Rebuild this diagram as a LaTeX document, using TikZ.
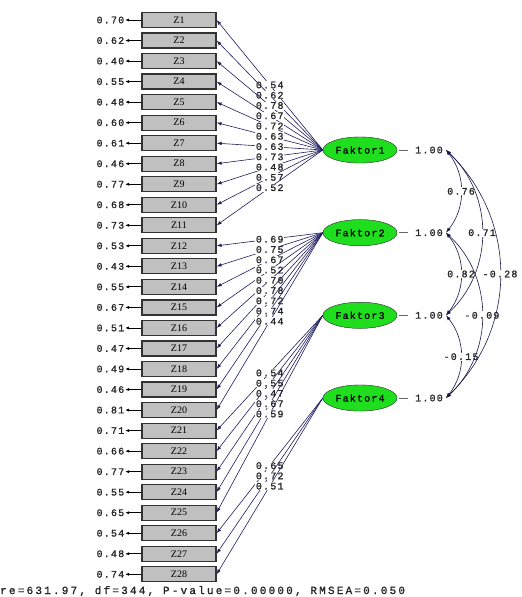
\documentclass[tikz,border=0pt]{standalone}
\usepackage{fontspec}
\setmainfont{Liberation Serif}
\newfontfamily\lmono[LetterSpace=12,FakeBold=1.2]{Liberation Mono}
\newfontfamily\bmono[LetterSpace=20,FakeBold=1.2]{Liberation Mono}
\usetikzlibrary{arrows.meta,shapes.geometric}
\definecolor{boxgray}{RGB}{192,192,192}
\definecolor{pathblue}{RGB}{30,30,95}
\definecolor{facgreen}{RGB}{30,222,30}
\begin{document}
\begin{tikzpicture}[x=1pt,y=-1pt,
  obs/.style={draw=black!80, line width=1.2pt, fill=boxgray, minimum width=74pt, minimum height=15pt, inner sep=0pt, font=\fontsize{10}{10}\selectfont},
  num/.style={font=\lmono\fontsize{10}{10}\selectfont, inner sep=0.6pt, text=black!85},
  lab/.style={num, fill=white},
  lat/.style={ellipse, draw=black!70, fill=facgreen, minimum width=74pt, minimum height=26pt, inner sep=0pt, font=\lmono\fontsize{10}{10}\selectfont},
  load/.style={draw=pathblue, line width=0.6pt, -{Latex[length=5pt,width=3.5pt]}},
  err/.style={draw=black, line width=0.9pt, -{Latex[length=4pt,width=3pt]}},
  cov/.style={draw=pathblue!80!black, line width=0.6pt, {Latex[length=5pt,width=3.5pt]}-{Latex[length=5pt,width=3.5pt]}},
  varl/.style={draw=black!60, line width=0.5pt, shorten <=2pt, shorten >=6pt},
]
\useasboundingbox (0,0) rectangle (522,597);

% observed variables with error variances
\foreach \i/\e in {1/0.70,2/0.62,3/0.40,4/0.55,5/0.48,6/0.60,7/0.61,8/0.46,9/0.77,10/0.68,11/0.73,12/0.53,13/0.43,14/0.55,15/0.67,16/0.51,17/0.47,18/0.49,19/0.46,20/0.81,21/0.71,22/0.66,23/0.77,24/0.55,25/0.65,26/0.54,27/0.48,28/0.74} {
  \node[obs] (z\i) at (179, {20+(\i-1)*20.53}) {Z\i};
  \node[num, anchor=east] (e\i) at (125, {20+(\i-1)*20.53}) {\e};
  \draw[err] (z\i.west) -- (e\i.east);
}

% latent factors (positions)
\coordinate (p1) at (360,150);
\coordinate (p2) at (360,232.7);
\coordinate (p3) at (360,315.3);
\coordinate (p4) at (360,398);
\node[lat] (f1) at (p1) {Faktor1};
\node[lat] (f2) at (p2) {Faktor2};
\node[lat] (f3) at (p3) {Faktor3};
\node[lat] (f4) at (p4) {Faktor4};

% loadings
\foreach \i/\l in {1/0.54,2/0.62,3/0.78,4/0.67,5/0.72,6/0.63,7/0.63,8/0.73,9/0.48,10/0.57,11/0.52}
  \draw[load] (f1.west) -- node[lab]{\l} (z\i.east);
\foreach \i/\l in {12/0.69,13/0.75,14/0.67,15/0.52,16/0.70,17/0.78,18/0.72,19/0.74,20/0.44}
  \draw[load] (f2.west) -- node[lab]{\l} (z\i.east);
\foreach \i/\l in {21/0.54,22/0.55,23/0.47,24/0.67,25/0.59}
  \draw[load] (f3.west) -- node[lab]{\l} (z\i.east);
\foreach \i/\l in {26/0.65,27/0.72,28/0.51}
  \draw[load] (f4.west) -- node[lab]{\l} (z\i.east);

% redraw factors on top
\node[lat] at (p1) {Faktor1};
\node[lat] at (p2) {Faktor2};
\node[lat] at (p3) {Faktor3};
\node[lat] at (p4) {Faktor4};

% factor variances
\foreach \k in {1,2,3,4} {
  \node[num] (v\k) at ([xshift=69pt]p\k) {1.00};
  \draw[varl] (f\k.east) -- (v\k.west);
  \coordinate (c\k) at ([xshift=86pt]p\k);
}

% correlations
\draw[cov] (c1) .. controls +(20,25) and +(20,-25) .. node[lab]{0.76} (c2);
\draw[cov] (c2) .. controls +(20,25) and +(20,-25) .. node[lab]{0.82} (c3);
\draw[cov] (c3) .. controls +(20,25) and +(20,-25) .. node[lab]{-0.15} (c4);
\draw[cov] (c1) .. controls +(48,45) and +(48,-45) .. node[lab]{0.71} (c3);
\draw[cov] (c2) .. controls +(48,45) and +(48,-45) .. node[lab]{-0.09} (c4);
\draw[cov] (c1) .. controls +(72,70) and +(72,-70) .. node[lab]{-0.28} (c4);

% fit statistics
\node[anchor=west, inner sep=0pt, font=\bmono\fontsize{11}{11}\selectfont, text=black!85] (fit) at (0,591) {re=631.97, df=344, P-value=0.00000, RMSEA=0.050};
\end{tikzpicture}
\end{document}
